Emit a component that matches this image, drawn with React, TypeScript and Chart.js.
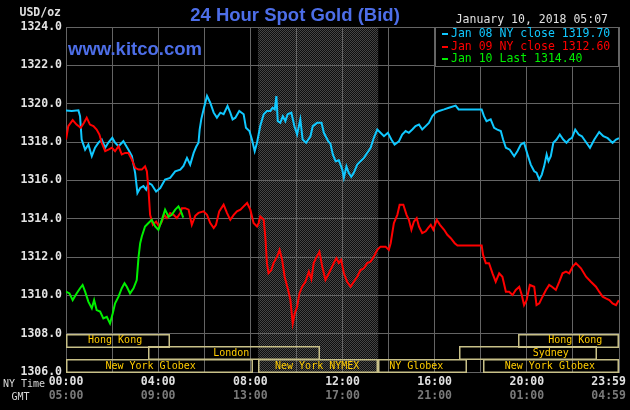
import React, { useEffect, useRef } from 'react';
import { Chart, registerables } from 'chart.js';

Chart.register(...registerables);

// ---------- data (hours in NY time, price in USD/oz) ----------
const jan08Hours = [
  0.0, 0.25, 0.54, 0.61, 0.68, 0.83, 0.97, 1.12, 1.26, 1.41, 1.55, 1.7, 1.84, 2.01, 2.13, 2.28, 2.49, 2.71, 2.86,
  3.0, 3.1, 3.22, 3.36, 3.48, 3.58, 3.72, 3.91, 4.09, 4.3, 4.52, 4.74, 4.96, 5.1, 5.25, 5.39, 5.54, 5.65, 5.75,
  5.8, 5.87, 5.97, 6.12, 6.26, 6.41, 6.55, 6.7, 6.84, 7.01, 7.13, 7.23, 7.35, 7.52, 7.71, 7.81, 7.96, 8.07, 8.19,
  8.29, 8.43, 8.58, 8.72, 8.87, 8.97, 9.06, 9.13, 9.19, 9.3, 9.41, 9.52, 9.62, 9.78, 9.91, 10.03, 10.17, 10.27,
  10.42, 10.61, 10.71, 10.9, 11.09, 11.19, 11.38, 11.48, 11.58, 11.7, 11.84, 11.99, 12.06, 12.17, 12.27, 12.38,
  12.49, 12.64, 12.78, 12.93, 13.07, 13.22, 13.36, 13.51, 13.65, 13.8, 13.97, 14.12, 14.26, 14.45, 14.59, 14.74,
  14.88, 15.03, 15.17, 15.32, 15.46, 15.61, 15.75, 15.9, 16.04, 16.19, 16.41, 16.62, 16.91, 17.04, 18.04, 18.14,
  18.25, 18.43, 18.58, 18.72, 18.87, 18.97, 19.09, 19.26, 19.45, 19.59, 19.74, 19.88, 20.03, 20.17, 20.32, 20.42,
  20.54, 20.65, 20.75, 20.86, 20.94, 21.04, 21.15, 21.29, 21.43, 21.58, 21.72, 21.84, 21.96, 22.1, 22.25, 22.39,
  22.54, 22.74, 22.93, 23.14, 23.32, 23.51, 23.72, 23.87, 24.0,
];
const jan08Values = [
  1319.65, 1319.62, 1319.65, 1319.35, 1318.13, 1317.6, 1317.87, 1317.26, 1317.7, 1317.97, 1318.13, 1317.7, 1317.97,
  1318.22, 1317.96, 1317.78, 1318.04, 1317.6, 1317.26, 1316.39, 1315.34, 1315.6, 1315.7, 1315.51, 1315.86, 1315.77,
  1315.42, 1315.6, 1316.04, 1316.13, 1316.47, 1316.56, 1316.75, 1317.17, 1316.82, 1317.43, 1317.75, 1317.96, 1318.65,
  1319.18, 1319.7, 1320.4, 1320.05, 1319.53, 1319.27, 1319.53, 1319.45, 1319.88, 1319.53, 1319.18, 1319.27, 1319.62,
  1319.45, 1318.74, 1318.57, 1318.13, 1317.52, 1317.96, 1318.83, 1319.45, 1319.62, 1319.62, 1319.79, 1319.7, 1320.4,
  1319.09, 1319.0, 1319.35, 1319.09, 1319.45, 1319.53, 1318.83, 1318.39, 1319.18, 1318.13, 1317.96, 1318.3, 1318.83,
  1319.0, 1319.0, 1318.48, 1318.04, 1317.9, 1317.35, 1317.0, 1317.05, 1316.56, 1316.13, 1316.73, 1316.39, 1316.18,
  1316.39, 1316.82, 1317.0, 1317.17, 1317.43, 1317.7, 1318.22, 1318.65, 1318.48, 1318.3, 1318.48, 1318.13, 1317.87,
  1318.04, 1318.39, 1318.57, 1318.48, 1318.65, 1318.83, 1318.91, 1318.65, 1318.83, 1319.0, 1319.35, 1319.53, 1319.62,
  1319.7, 1319.79, 1319.9, 1319.7, 1319.7, 1319.35, 1319.09, 1319.18, 1318.74, 1318.65, 1318.57, 1318.13, 1317.7,
  1317.6, 1317.26, 1317.52, 1317.87, 1317.96, 1317.35, 1316.82, 1316.47, 1316.4, 1316.04, 1316.3, 1316.73, 1317.35,
  1317.0, 1317.26, 1317.96, 1318.13, 1318.39, 1318.13, 1317.96, 1318.13, 1318.22, 1318.65, 1318.39, 1318.3, 1318.04,
  1317.7, 1318.13, 1318.52, 1318.3, 1318.2, 1317.96, 1318.13, 1318.2,
];

const jan09Hours = [
  0.0, 0.1, 0.29, 0.46, 0.64, 0.78, 0.9, 1.04, 1.19, 1.33, 1.45, 1.55, 1.7, 1.84, 1.99, 2.13, 2.28, 2.42, 2.57, 2.71,
  2.86, 3.0, 3.15, 3.29, 3.43, 3.51, 3.58, 3.65, 3.77, 3.91, 4.04, 4.16, 4.26, 4.38, 4.52, 4.67, 4.81, 4.96, 5.03,
  5.17, 5.32, 5.46, 5.61, 5.75, 5.97, 6.12, 6.26, 6.41, 6.51, 6.65, 6.84, 6.99, 7.13, 7.28, 7.42, 7.57, 7.71, 7.86,
  8.0, 8.14, 8.29, 8.36, 8.43, 8.58, 8.65, 8.72, 8.79, 8.91, 9.01, 9.16, 9.27, 9.38, 9.49, 9.64, 9.74, 9.84, 9.93,
  10.03, 10.13, 10.25, 10.39, 10.54, 10.65, 10.75, 10.85, 11.0, 11.12, 11.26, 11.41, 11.55, 11.67, 11.74, 11.84,
  11.94, 12.06, 12.2, 12.35, 12.49, 12.64, 12.78, 12.93, 13.07, 13.22, 13.36, 13.51, 13.65, 13.87, 14.01, 14.09,
  14.23, 14.38, 14.48, 14.64, 14.78, 14.88, 14.99, 15.1, 15.22, 15.32, 15.46, 15.61, 15.71, 15.83, 15.94, 16.09,
  16.23, 16.41, 16.55, 16.7, 16.87, 16.99, 18.04, 18.1, 18.22, 18.36, 18.51, 18.65, 18.8, 18.94, 19.09, 19.23, 19.38,
  19.52, 19.67, 19.78, 19.88, 19.99, 20.13, 20.32, 20.42, 20.54, 20.68, 20.83, 20.97, 21.09, 21.26, 21.41, 21.55,
  21.7, 21.84, 21.99, 22.13, 22.35, 22.57, 22.78, 23.0, 23.14, 23.29, 23.43, 23.58, 23.72, 23.87, 23.99,
];
const jan09Values = [
  1318.13, 1318.83, 1319.14, 1318.91, 1318.74, 1319.0, 1319.27, 1318.91, 1318.83, 1318.65, 1318.39, 1317.96, 1317.52,
  1317.6, 1317.7, 1317.52, 1317.78, 1317.35, 1317.43, 1317.43, 1317.08, 1316.65, 1316.56, 1316.56, 1316.73, 1316.47,
  1315.51, 1314.2, 1313.68, 1313.85, 1313.59, 1313.85, 1314.2, 1314.03, 1314.29, 1314.2, 1314.03, 1314.29, 1314.55,
  1314.55, 1314.47, 1313.68, 1314.15, 1314.3, 1314.38, 1314.2, 1313.77, 1313.51, 1313.68, 1314.38, 1314.73, 1314.29,
  1313.94, 1314.2, 1314.38, 1314.47, 1314.64, 1314.82, 1314.47, 1313.77, 1313.59, 1313.77, 1314.12, 1313.94, 1313.07,
  1311.68, 1311.15, 1311.32, 1311.68, 1312.02, 1312.37, 1311.85, 1310.97, 1310.28, 1309.75, 1308.53, 1309.06, 1309.4,
  1310.1, 1310.45, 1310.71, 1311.24, 1310.84, 1311.68, 1311.94, 1312.28, 1311.5, 1310.8, 1311.15, 1311.5, 1311.8,
  1311.94, 1311.68, 1311.85, 1311.15, 1310.71, 1310.45, 1310.71, 1310.97, 1311.32, 1311.41, 1311.68, 1311.76,
  1312.02, 1312.37, 1312.54, 1312.54, 1312.37, 1312.72, 1313.77, 1314.2, 1314.73, 1314.73, 1314.2, 1313.94, 1313.42,
  1313.85, 1314.03, 1313.59, 1313.25, 1313.34, 1313.51, 1313.68, 1313.42, 1313.94, 1313.68, 1313.42, 1313.16,
  1312.98, 1312.72, 1312.6, 1312.6, 1312.11, 1311.68, 1311.68, 1311.15, 1310.71, 1311.15, 1310.97, 1310.19, 1310.19,
  1310.02, 1310.28, 1310.45, 1310.02, 1309.49, 1309.75, 1310.54, 1310.45, 1309.49, 1309.58, 1309.93, 1310.28,
  1310.54, 1310.45, 1310.28, 1310.71, 1311.15, 1311.24, 1311.15, 1311.5, 1311.68, 1311.41, 1310.97, 1310.71, 1310.45,
  1310.19, 1309.93, 1309.84, 1309.75, 1309.58, 1309.49, 1309.75,
];

const jan10Hours = [
  0.0, 0.15, 0.29, 0.46, 0.61, 0.72, 0.83, 0.97, 1.12, 1.22, 1.33, 1.48, 1.62, 1.77, 1.91, 2.03, 2.13, 2.28, 2.42,
  2.54, 2.64, 2.78, 2.93, 3.07, 3.15, 3.22, 3.29, 3.43, 3.58, 3.72, 3.87, 4.01, 4.16, 4.3, 4.45, 4.59, 4.74, 4.88,
  4.99, 5.09,
];
const jan10Values = [
  1310.19, 1310.1, 1309.75, 1310.1, 1310.37, 1310.54, 1310.19, 1309.67, 1309.32, 1309.75, 1309.23, 1309.15, 1308.8,
  1308.88, 1308.53, 1309.06, 1309.58, 1309.93, 1310.37, 1310.63, 1310.45, 1310.1, 1310.37, 1310.8, 1312.02, 1312.72,
  1313.07, 1313.59, 1313.77, 1313.94, 1313.59, 1313.42, 1313.94, 1314.47, 1314.1, 1314.2, 1314.47, 1314.64, 1314.38,
  1314.05,
];

const seriesNames = ['Jan 08 NY close', 'Jan 09 NY close', 'Jan 10 Last'];
const seriesLegendValues = [1319.7, 1312.6, 1314.4];
const seriesColors = ['#10c8ff', '#ff0000', '#00f000'];

const yMin = 1306;
const yMax = 1324;
const yStep = 2;

const nyTickHours = [0, 4, 8, 12, 16, 20, 24];
const nyTickLabels = ['00:00', '04:00', '08:00', '12:00', '16:00', '20:00', '23:59'];
const gmtTickLabels = ['05:00', '09:00', '13:00', '17:00', '21:00', '01:00', '04:59'];

const comexStart = 8.33;
const comexEnd = 13.55;

const sessionNames = ['Hong Kong', 'London', 'New York Globex', 'New York NYMEX', 'NY Globex', 'New York Globex', 'Sydney', 'Hong Kong'];
const sessionRows = [0, 1, 2, 2, 2, 2, 1, 0];
const sessionStarts = [0, 3.55, 0, 8.33, 13.55, 18.1, 17.04, 19.6];
const sessionEnds = [4.52, 11.0, 8.13, 13.55, 17.42, 24, 23.04, 24];
const sessionLabelAt = [2.13, 7.17, 3.67, 10.9, 15.2, 21.0, 21.04, 22.1];

const titleText = '24 Hour Spot Gold (Bid)';
const siteText = 'www.kitco.com';
const dateText = 'January 10, 2018 05:07';
const unitText = 'USD/oz';

const MONO = '"DejaVu Sans Mono", monospace';
const SANS = '"Liberation Sans", Arial, sans-serif';

function tickLabel(value: number, labels: string[]) {
  const i = nyTickHours.indexOf(Math.round(value * 1000) / 1000);
  if (i < 0) return '';
  return i === labels.length - 1 ? labels[i] + '   ' : labels[i];
}

export default function App() {
  const canvasRef = useRef<HTMLCanvasElement | null>(null);

  useEffect(() => {
    const canvas = canvasRef.current;
    if (!canvas) return;
    const c2d = canvas.getContext('2d')!;

    const pc = document.createElement('canvas');
    pc.width = 2;
    pc.height = 2;
    const pctx = pc.getContext('2d')!;
    pctx.fillStyle = '#0e0e0e';
    pctx.fillRect(0, 0, 2, 2);
    pctx.fillStyle = '#454545';
    pctx.fillRect(0, 0, 1, 1);
    pctx.fillRect(1, 1, 1, 1);
    const shadePattern = c2d.createPattern(pc, 'repeat');

    const decor = {
      id: 'kitcoDecor',
      beforeDraw(chart: any) {
        const { ctx, width, height, chartArea, scales } = chart;
        ctx.save();
        ctx.fillStyle = '#000';
        ctx.fillRect(0, 0, width, height);
        const x1 = scales.x.getPixelForValue(comexStart);
        const x2 = scales.x.getPixelForValue(comexEnd);
        ctx.fillStyle = shadePattern || '#262626';
        ctx.fillRect(x1, chartArea.top, x2 - x1, chartArea.bottom - chartArea.top);
        ctx.restore();
      },
      afterDraw(chart: any) {
        const { ctx, chartArea, scales } = chart;
        const xs = scales.x;
        const ys = scales.y;
        ctx.save();

        // session boxes
        const rowTop = ys.getPixelForValue(1308);
        const rowBottom = ys.getPixelForValue(1306);
        const rh = (rowBottom - rowTop) / 3;
        ctx.lineWidth = 1.5;
        ctx.strokeStyle = '#c8c088';
        ctx.font = `10px ${MONO}`;
        ctx.textAlign = 'center';
        ctx.textBaseline = 'middle';
        for (let i = 0; i < sessionNames.length; i++) {
          const xa = xs.getPixelForValue(sessionStarts[i]);
          const xb = xs.getPixelForValue(sessionEnds[i]);
          const ya = rowTop + sessionRows[i] * rh;
          ctx.strokeRect(Math.round(xa) + 0.75, Math.round(ya) + 0.75, Math.round(xb - xa) - 1.5, Math.round(rh) - 0.5);
        }
        ctx.fillStyle = '#ffcc00';
        for (let i = 0; i < sessionNames.length; i++) {
          const ya = rowTop + sessionRows[i] * rh;
          ctx.fillText(sessionNames[i], xs.getPixelForValue(sessionLabelAt[i]), ya + rh / 2 + 0.5);
        }

        // legend box
        const lx = 435;
        const ly = chartArea.top;
        const lw = chartArea.right - lx;
        const lh = 40;
        ctx.fillStyle = '#000';
        ctx.fillRect(lx, ly, lw, lh);
        ctx.strokeStyle = '#666';
        ctx.lineWidth = 1;
        ctx.strokeRect(lx + 0.5, ly + 0.5, lw - 1, lh - 1);
        ctx.font = `11.5px ${MONO}`;
        ctx.textAlign = 'left';
        ctx.textBaseline = 'middle';
        for (let i = 0; i < seriesNames.length; i++) {
          const yy = ly + 7.2 + i * 12.5;
          ctx.fillStyle = seriesColors[i];
          ctx.fillRect(lx + 7, Math.round(yy) - 1, 6, 2);
          ctx.fillText(`${seriesNames[i]} ${seriesLegendValues[i].toFixed(2)}`, lx + 16, yy);
        }

        // titles and captions
        ctx.fillStyle = '#4d6ee8';
        ctx.font = `bold 18.5px ${SANS}`;
        ctx.textAlign = 'center';
        ctx.textBaseline = 'alphabetic';
        ctx.fillText(titleText, 295, 21);
        ctx.textAlign = 'left';
        ctx.fillText(siteText, 68, 55);

        ctx.fillStyle = '#e0e0e0';
        ctx.font = `11.5px ${MONO}`;
        ctx.textBaseline = 'middle';
        ctx.textAlign = 'right';
        ctx.fillText(dateText, 608, 20);
        ctx.textAlign = 'left';
        ctx.font = `bold 11.5px ${MONO}`;
        ctx.fillText(unitText, 19.5, 13);

        ctx.font = `10px ${MONO}`;
        ctx.fillStyle = '#d8d8d8';
        ctx.fillText('NY Time', 3, 384.5);
        ctx.fillText('GMT', 11.5, 397);
        ctx.restore();
      },
    };

    const chart = new Chart(canvas, {
      type: 'line',
      data: {
        datasets: [
          {
            label: seriesNames[2],
            data: jan10Hours.map((h, i) => ({ x: h, y: jan10Values[i] })),
            borderColor: seriesColors[2],
            order: 0,
          },
          {
            label: seriesNames[1],
            data: jan09Hours.map((h, i) => ({ x: h, y: jan09Values[i] })),
            borderColor: seriesColors[1],
            order: 1,
          },
          {
            label: seriesNames[0],
            data: jan08Hours.map((h, i) => ({ x: h, y: jan08Values[i] })),
            borderColor: seriesColors[0],
            order: 2,
          },
        ],
      },
      options: {
        animation: false,
        responsive: false,
        maintainAspectRatio: false,
        devicePixelRatio: 1,
        layout: { padding: { top: 27, right: 11, bottom: 0, left: 0 } },
        elements: {
          point: { radius: 0 },
          line: { borderWidth: 2, tension: 0, fill: false },
        },
        plugins: {
          legend: { display: false },
          tooltip: { enabled: false },
          title: { display: false },
        },
        scales: {
          x: {
            type: 'linear',
            position: 'bottom',
            weight: 0,
            min: 0,
            max: 24,
            ticks: {
              stepSize: 2,
              autoSkip: false,
              maxRotation: 0,
              minRotation: 0,
              padding: 3,
              color: '#e0e0e0',
              font: { family: MONO, size: 11.5, weight: 'bold' },
              callback: (v: any) => tickLabel(Number(v), nyTickLabels),
            },
            grid: { color: '#646464', lineWidth: 1, drawTicks: false },
            border: { color: '#646464' },
            afterFit: (s: any) => {
              s.height = 17;
              s.paddingLeft = 0;
              s.paddingRight = 0;
            },
          },
          xg: {
            type: 'linear',
            position: 'bottom',
            weight: 1,
            min: 0,
            max: 24,
            ticks: {
              stepSize: 2,
              autoSkip: false,
              maxRotation: 0,
              minRotation: 0,
              padding: 0,
              color: '#7a7a7a',
              font: { family: MONO, size: 11.5, weight: 'bold' },
              callback: (v: any) => tickLabel(Number(v), gmtTickLabels),
            },
            grid: { display: false, drawTicks: false },
            border: { display: false },
            afterFit: (s: any) => {
              s.height = 21;
              s.paddingLeft = 0;
              s.paddingRight = 0;
            },
          },
          y: {
            type: 'linear',
            position: 'left',
            min: yMin,
            max: yMax,
            ticks: {
              stepSize: yStep,
              padding: 4,
              color: '#e4e4e4',
              font: { family: MONO, size: 11.5, weight: 'bold' },
              callback: (v: any) => Number(v).toFixed(1),
            },
            grid: { color: '#646464', lineWidth: 1, drawTicks: false },
            border: { color: '#646464' },
            afterFit: (s: any) => {
              s.width = 66;
            },
          },
        },
      } as any,
      plugins: [decor],
    });

    return () => chart.destroy();
  }, []);

  return (
    <div style={{ position: 'fixed', left: 0, top: 0, width: 630, height: 410, background: '#000' }}>
      <canvas ref={canvasRef} width={630} height={410} style={{ display: 'block', width: 630, height: 410 }} />
    </div>
  );
}
